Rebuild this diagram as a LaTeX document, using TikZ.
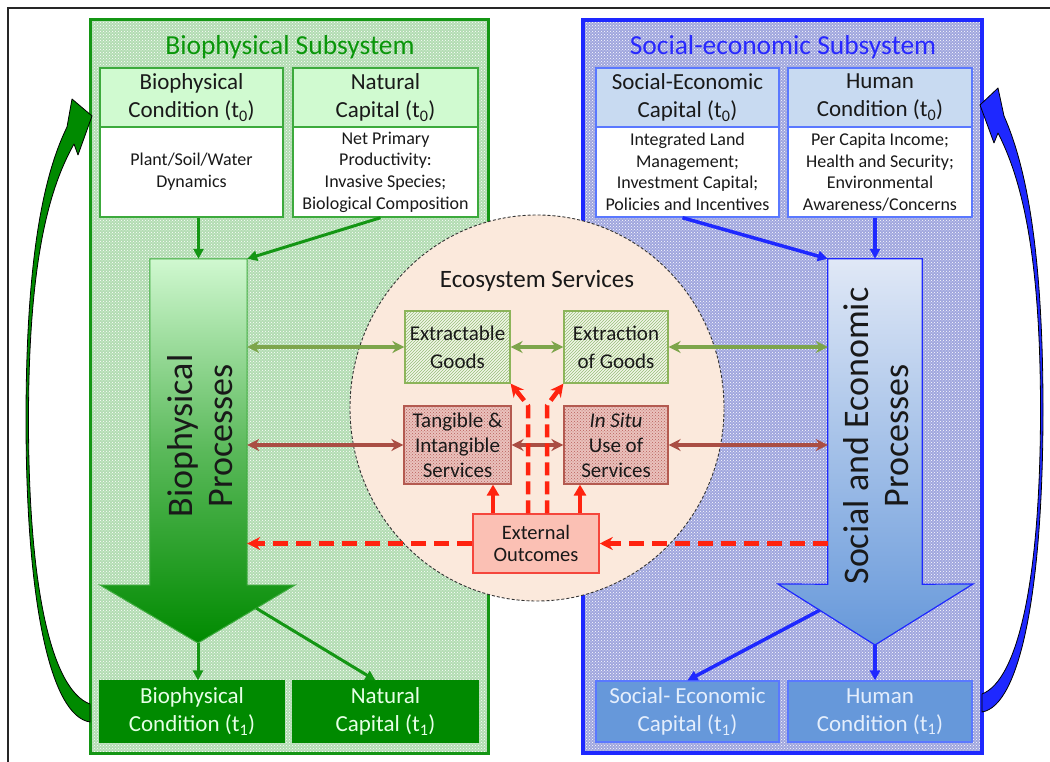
\documentclass[tikz,border=0pt]{standalone}
\usepackage{fontspec}
\setmainfont{Carlito}
\usetikzlibrary{arrows.meta,patterns,calc,shapes.geometric}
\definecolor{gline}{RGB}{20,150,20}
\definecolor{gbase}{RGB}{178,220,178}
\definecolor{ghdr}{RGB}{208,250,208}
\definecolor{gbox}{RGB}{60,170,60}
\definecolor{gdark}{RGB}{0,138,0}
\definecolor{gtop}{RGB}{208,248,208}
\definecolor{gtitlec}{RGB}{10,150,10}
\definecolor{bline}{RGB}{30,40,255}
\definecolor{bbase}{RGB}{160,166,222}
\definecolor{bhdr}{RGB}{200,218,241}
\definecolor{bbox}{RGB}{90,120,255}
\definecolor{bdark}{RGB}{102,152,218}
\definecolor{btop}{RGB}{224,232,246}
\definecolor{btitlec}{RGB}{40,40,255}
\definecolor{olive}{RGB}{125,165,75}
\definecolor{brownr}{RGB}{170,78,68}
\definecolor{redd}{RGB}{255,35,15}
\definecolor{circfill}{RGB}{251,233,220}
\definecolor{extfill}{RGB}{251,192,180}
\definecolor{extline}{RGB}{245,70,60}
\definecolor{hatchg}{RGB}{150,190,120}
\definecolor{hatchbg}{RGB}{242,246,232}
\definecolor{hatchline}{RGB}{140,180,90}
\definecolor{tanbg}{RGB}{234,194,189}
\definecolor{tandot}{RGB}{185,95,90}
\definecolor{tanline}{RGB}{180,90,80}
\definecolor{txt}{RGB}{25,25,25}
\definecolor{gtxtlight}{RGB}{230,255,230}
\definecolor{btxtlight}{RGB}{228,238,252}
\definecolor{gmid}{RGB}{90,185,90}
\begin{document}
\begin{tikzpicture}[x=1pt,y=-1pt,
  subbox/.style={inner sep=0, minimum width=#1},
  ghdrbox/.style={draw=gbox, fill=ghdr, line width=1.5, align=center, inner sep=0,
     minimum height=59, text=txt, font=\fontsize{23}{28}\selectfont},
  bhdrbox/.style={ghdrbox, draw=bbox, fill=bhdr},
  gbodybox/.style={draw=gbox, fill=white, line width=1.5, align=center, inner sep=0,
     minimum height=90, text=txt, font=\fontsize{18}{21.6}\selectfont},
  bbodybox/.style={gbodybox, draw=bbox},
  gbotbox/.style={fill=gdark, draw=gdark, line width=1.2, align=center, inner sep=0,
     minimum height=61, text=gtxtlight, font=\fontsize{23}{28}\selectfont},
  bbotbox/.style={gbotbox, fill=bdark, draw=bbox, text=btxtlight},
  goodsbox/.style={preaction={fill=hatchbg}, pattern=north east lines, pattern color=hatchg,
     draw=hatchline, line width=1.2, minimum width=105, minimum height=72, inner sep=0,
     align=center, text=txt, font=\fontsize{21}{28}\selectfont},
  servbox/.style={preaction={fill=tanbg}, pattern=crosshatch dots, pattern color=tandot,
     draw=tanline, line width=1.2, minimum width=105, minimum height=78, inner sep=0,
     align=center, text=txt, font=\fontsize{21}{25}\selectfont},
  garr/.style={gline, line width=3, -{Triangle[length=10pt,width=10pt]}},
  barr/.style={bline, line width=3.5, -{Triangle[length=10pt,width=10pt]}},
  oarr/.style={olive, line width=3.5, {Stealth[length=12pt,width=12pt]}-{Stealth[length=12pt,width=12pt]}},
  brarr/.style={brownr, line width=3.5, {Stealth[length=12pt,width=12pt]}-{Stealth[length=12pt,width=12pt]}},
  rdash/.style={redd, line width=4.5, dash pattern=on 15pt off 8pt, -{Stealth[length=13pt,width=13pt]}},
  rdashb/.style={redd, line width=4.5, dash pattern=on 13pt off 6pt, line join=round, -{Stealth[length=13pt,width=13pt]}},
  rsolid/.style={redd, line width=4.5, -{Triangle[length=11pt,width=12pt]}},
  sidearrow/.style={black, line width=0.8, line join=round}
]
\useasboundingbox (0,0) rectangle (1050,762);
\fill[white] (0,0) rectangle (1050,762);
% outer frame
\draw[line width=2, black!85] (8,775) -- (8,8) -- (1065,8);

% subsystem containers
\node[subbox=398, minimum height=733, preaction={fill=gbase}, pattern=crosshatch dots,
      pattern color=white, draw=gline, line width=3] (gsub) at (289,386.5) {};
\node[subbox=399, minimum height=733, preaction={fill=bbase}, pattern=crosshatch dots,
      pattern color=white, draw=bline, line width=3.5] (bsub) at (782.5,386.5) {};
\node[text=gtitlec, font=\fontsize{27.5}{30}\selectfont] (gtitle) at (290,47) {Biophysical Subsystem};
\node[text=btitlec, font=\fontsize{27.5}{30}\selectfont] (btitle) at (783,47) {Social-economic Subsystem};

% side curved arrows
\draw[sidearrow, fill=gdark]
  (90,722) .. controls (50,716) and (26,600) .. (26,420)
  .. controls (26,265) and (42,178) .. (67,127) -- (72,99) -- (92,116) -- (78,155) -- (74,144)
  .. controls (48,190) and (28.5,265) .. (28.5,420)
  .. controls (28.5,590) and (52,690) .. (90,704) -- cycle;
\draw[sidearrow, fill=bline]
  (982,712) .. controls (1020,706) and (1043,590) .. (1043,410)
  .. controls (1043,255) and (1027,168) .. (1004,116) -- (998,88) -- (980,105) -- (994,143) -- (998,133)
  .. controls (1022,180) and (1040.5,255) .. (1040.5,410)
  .. controls (1040.5,580) and (1018,680) .. (982,694) -- cycle;

% ecosystem circle
\node[ellipse, draw=black!80, dash pattern=on 3pt off 2pt, line width=0.9, fill=circfill,
      minimum width=374, minimum height=386, inner sep=0] (eco) at (537,408) {};
\node[text=txt, font=\fontsize{25}{30}\selectfont] (ecotitle) at (537,281) {Ecosystem Services};

% top boxes
\node[ghdrbox, minimum width=183] (b1h) at (191.5,97.5) {Biophysical\\Condition (t\textsubscript{0})};
\node[gbodybox, minimum width=183] (b1body) at (191.5,172) {Plant/Soil/Water\\Dynamics};
\node[ghdrbox, minimum width=185] (b2h) at (385.5,97.5) {Natural\\Capital (t\textsubscript{0})};
\node[gbodybox, minimum width=185] (b2body) at (385.5,172) {Net Primary\\Productivity:\\Invasive Species;\\Biological Composition};
\node[bhdrbox, minimum width=183] (b3h) at (687.5,97.5) {Social-Economic\\Capital (t\textsubscript{0})};
\node[bbodybox, minimum width=183] (b3body) at (687.5,172) {Integrated Land\\Management;\\Investment Capital;\\Policies and Incentives};
\node[bhdrbox, minimum width=184] (b4h) at (880,97.5) {Human\\Condition (t\textsubscript{0})};
\node[bbodybox, minimum width=184] (b4body) at (880,172) {Per Capita Income;\\Health and Security;\\Environmental\\Awareness/Concerns};

% bottom boxes
\node[gbotbox, minimum width=184] (b5) at (192,711.5) {Biophysical\\Condition (t\textsubscript{1})};
\node[gbotbox, minimum width=185] (b6) at (385.5,711.5) {Natural\\Capital (t\textsubscript{1})};
\node[bbotbox, minimum width=183] (b7) at (687.5,711.5) {Social- Economic\\Capital (t\textsubscript{1})};
\node[bbotbox, minimum width=184] (b8) at (880,711.5) {Human\\Condition (t\textsubscript{1})};

% big process arrows
\node[inner sep=0, minimum width=97, minimum height=326] (gshaft) at (198.5,422) {};
\coordinate (gtip) at (198,643);
\coordinate (gheadL) at (100,585);
\coordinate (gheadR) at (295,585);
\path[draw=gbox, line width=1, top color=gtop, bottom color=gdark, middle color=gmid]
  (gshaft.north west) -- (gshaft.north east) -- (gshaft.south east) -- (gheadR) -- (gtip)
  -- (gheadL) -- (gshaft.south west) -- cycle;
\node[rotate=90, align=center, text=txt, font=\fontsize{36}{40}\selectfont] (gproc) at (200,436) {Biophysical\\Processes};

\node[inner sep=0, minimum width=94, minimum height=325] (bshaft) at (875,421.5) {};
\coordinate (btip) at (875,645);
\coordinate (bheadL) at (778,584);
\coordinate (bheadR) at (973,584);
\path[draw=bline, line width=1.2, top color=btop, bottom color=bdark]
  (bshaft.north west) -- (bshaft.north east) -- (bshaft.south east) -- (bheadR) -- (btip)
  -- (bheadL) -- (bshaft.south west) -- cycle;
\node[rotate=90, align=center, text=txt, font=\fontsize{36}{40}\selectfont] (bproc) at (876,436) {Social and Economic\\Processes};

% connectors top -> process
\draw[garr] (gshaft.north |- b1body.south) -- (gshaft.north);
\draw[garr] ([xshift=-5]b2body.south) -- (gshaft.north east);
\draw[barr] ([xshift=-5]b3body.south) -- (bshaft.north west);
\draw[barr] (bshaft.north |- b4body.south) -- (bshaft.north);
% connectors process -> bottom
\draw[garr] (gtip) -- (gtip |- b5.north);
\draw[garr] ($(gheadR)!0.4!(gtip)$) -- ([xshift=-10]b6.north);
\draw[barr] ($(bheadL)!0.43!(btip)$) -- (b7.north);
\draw[barr] (btip) -- (btip |- b8.north);

% inner boxes
\node[goodsbox] (extractable) at (457.5,347) {Extractable\\Goods};
\node[goodsbox, minimum width=104] (extraction) at (616,347) {Extraction\\of Goods};
\node[servbox, minimum width=107] (tangible) at (457.5,445) {Tangible \&\\Intangible\\Services};
\node[servbox, minimum width=104] (insitu) at (616,445) {\textit{In Situ}\\Use of\\Services};
\node[fill=extfill, draw=extline, line width=1.5, minimum width=126, minimum height=59, inner sep=0,
      align=center, text=txt, font=\fontsize{20.5}{21.5}\selectfont] (external) at (536,543.5) {External\\Outcomes};

% double arrows
\draw[oarr] (gshaft.east |- extractable.west) -- (extractable.west);
\draw[oarr] (extractable.east) -- (extraction.west);
\draw[oarr] (extraction.east) -- (bshaft.west |- extraction.east);
\draw[brarr] (gshaft.east |- tangible.west) -- (tangible.west);
\draw[brarr] (tangible.east) -- (insitu.west);
\draw[brarr] (insitu.east) -- (bshaft.west |- insitu.east);

% red arrows
\draw[rdash] (external.west) -- (gshaft.east |- external.west);
\draw[rdash] (bshaft.west |- external.east) -- (external.east);
\draw[rsolid] ([xshift=-43]external.north) -- ([xshift=-43]external.north |- tangible.south);
\draw[rsolid] ([xshift=44]external.north) -- ([xshift=44]external.north |- insitu.south);
\draw[rdashb] ([xshift=-8]external.north) -- ([xshift=-8]external.north |- tangible.north) -- (extractable.south east);
\draw[rdashb] ([xshift=11]external.north) -- ([xshift=11]external.north |- insitu.north) -- (extraction.south west);
\end{tikzpicture}
\end{document}
